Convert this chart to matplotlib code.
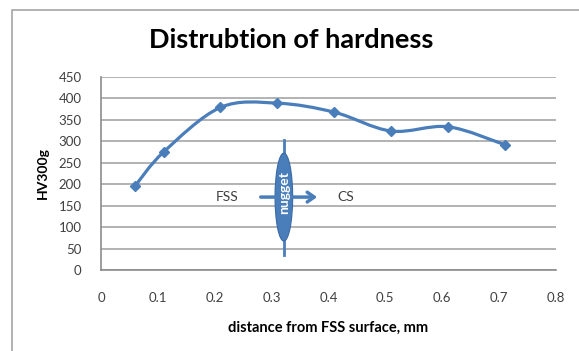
import numpy as np
import matplotlib
matplotlib.use('Agg')
import matplotlib.pyplot as plt
from matplotlib.path import Path
from matplotlib.patches import PathPatch, Ellipse, Rectangle

# data
distance = [0.06, 0.11, 0.21, 0.31, 0.41, 0.51, 0.61, 0.71]
hardness = [196, 275, 379, 389, 368, 324, 334, 292]

xticks = [0, 0.1, 0.2, 0.3, 0.4, 0.5, 0.6, 0.7, 0.8]
yticks = [0, 50, 100, 150, 200, 250, 300, 350, 400, 450]

blue = '#4a7ebb'
font = ['Lato', 'DejaVu Sans']


def smooth_path(x, y):
    # excel-like smoothed line (bezier through the points)
    pts = np.column_stack([x, y]).astype(float)
    n = len(pts)
    verts = [pts[0]]
    codes = [Path.MOVETO]
    for i in range(n - 1):
        p0 = pts[i - 1] if i > 0 else pts[i]
        p1 = pts[i]
        p2 = pts[i + 1]
        p3 = pts[i + 2] if i + 2 < n else pts[i + 1]
        c1 = p1 + (p2 - p0) / 6.0
        c2 = p2 - (p3 - p1) / 6.0
        verts += [c1, c2, p2]
        codes += [Path.CURVE4] * 3
    return Path(verts, codes)


fig = plt.figure(figsize=(5.79, 3.51), dpi=100)
ax = fig.add_axes([101 / 579, 1 - 270 / 351, 455 / 579, 193 / 351])

# outer chart frame (cropped)
fig.patches.append(Rectangle((12 / 579, -0.1), 1.2, 1 - 10 / 351 + 0.1,
                             transform=fig.transFigure, fill=False,
                             edgecolor='#a6a6a6', linewidth=1.2))

ax.add_patch(PathPatch(smooth_path(distance, hardness), fill=False,
                       edgecolor=blue, linewidth=2.3, zorder=3))
ax.plot(distance, hardness, linestyle='none', marker='D', markersize=5,
        color=blue, zorder=4)

# nugget sketch
ax.plot([0.3225, 0.3225], [35, 303], color=blue, linewidth=2, zorder=5)
ax.add_patch(Ellipse((0.3215, 170), 0.031, 205, facecolor=blue,
                     edgecolor='#3a6aa5', linewidth=0.8, zorder=6))
ax.annotate('', xy=(0.385, 170), xytext=(0.276, 170),
            arrowprops=dict(arrowstyle='->,head_length=0.5,head_width=0.35',
                            color=blue, linewidth=2.5), zorder=7)
ax.text(0.3215, 180, 'nugget', rotation=90, color='white', fontsize=10,
        fontweight='bold', ha='center', va='center', family=font, zorder=8)
ax.text(0.222, 170, 'FSS', fontsize=10, ha='center', va='center',
        color='#404040', family=font)
ax.text(0.43, 170, 'CS', fontsize=10, ha='center', va='center',
        color='#404040', family=font)

ax.set_xlim(0, 0.8)
ax.set_ylim(0, 450)
ax.set_xticks(xticks)
ax.set_yticks(yticks)
ax.set_xticklabels(['0' if v == 0 else '%.1f' % v for v in xticks])
ax.grid(axis='y', color='#a6a6a6', linewidth=1.2)
ax.set_axisbelow(True)
for s in ['top', 'right']:
    ax.spines[s].set_visible(False)
for s in ['left', 'bottom']:
    ax.spines[s].set_color('#8c8c8c')
    ax.spines[s].set_linewidth(1.2)
ax.tick_params(length=0, labelsize=9.5, labelcolor='#404040')
ax.tick_params(axis='x', pad=16)
ax.tick_params(axis='y', pad=14)
for lab in ax.get_xticklabels() + ax.get_yticklabels():
    lab.set_family(font)

ax.set_xlabel('distance from FSS surface, mm', fontsize=10.5, fontweight='bold',
              family=font, labelpad=12)
ax.set_ylabel('HV300g', fontsize=10, fontweight='bold', family=font, labelpad=7)
fig.text(0.503, 1 - 40 / 351, 'Distrubtion of hardness', fontsize=19.5,
         fontweight='bold', ha='center', va='center', family=font)

fig.savefig('out.png', dpi=100)
